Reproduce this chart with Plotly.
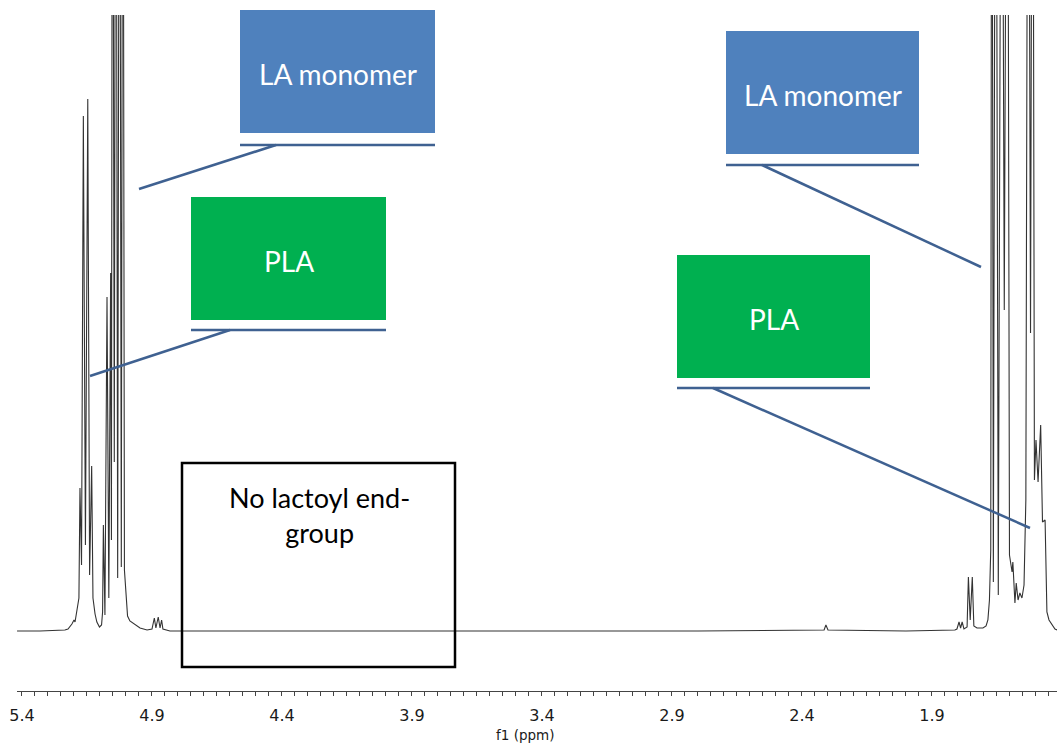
import plotly.graph_objects as go

# 1H NMR trace: chemical shift (ppm) and intensity (arbitrary units, baseline = 0)
shift_ppm = [
    5.419, 5.331, 5.235, 5.223, 5.208, 5.200, 5.196, 5.192, 5.189, 5.185, 5.181,
    # PLA methine quartet
    5.177, 5.171, 5.164, 5.156, 5.147, 5.140, 5.132,
    5.127, 5.119, 5.112, 5.102, 5.094, 5.090,
    # lactide monomer methine
    5.087, 5.081, 5.073, 5.066, 5.059, 5.056, 5.052, 5.045, 5.039, 5.032, 5.025,
    5.018, 5.012, 5.006, 5.000, 4.994, 4.985, 4.965, 4.946, 4.919,
    # minor signals
    4.900, 4.891, 4.885, 4.876, 4.869, 4.863, 4.858, 4.831,
    4.300, 3.800, 3.300, 2.800, 2.315, 2.308, 2.300, 2.000, 1.812,
    1.804, 1.796, 1.790, 1.784, 1.777, 1.765, 1.760, 1.753, 1.745, 1.739, 1.727,
    1.704, 1.692, 1.685, 1.679, 1.674,
    # methyl region
    1.670, 1.664, 1.655, 1.645, 1.632, 1.622, 1.610, 1.602, 1.592, 1.589, 1.581,
    1.576, 1.569, 1.562, 1.554, 1.546, 1.539, 1.530, 1.521, 1.513, 1.506, 1.500,
    1.492, 1.482, 1.475, 1.465, 1.458, 1.450, 1.439, 1.427, 1.419,
]
intensity = [
    0, 0, 1, 2, 7, 11, 9, 16, 18, 26, 33,
    143, 66, 515, 86, 532, 56, 165,
    33, 17, 9, 4, 6, 19,
    106, 16, 334, 33, 358, 91, 1100, 169, 1100, 53, 1100,
    64, 1100, 61, 31, 15, 10, 6, 3, 1,
    2, 13, 3, 14, 3, 11, 2, 0,
    0, 0, 0, 0, 1, 6, 1, 0, 1,
    2, 9, 3, 9, 2, 4, 54, 11, 54, 5, 3,
    3, 5, 11, 31, 81,
    1100, 49, 1100, 36, 1100, 321, 1100, 76, 59, 69, 28,
    48, 31, 38, 33, 46, 131, 1100, 298, 1100, 151, 191,
    149, 206, 109, 111, 19, 11, 6, 2, 1,
]

# Axis tick labels
tick_vals = [5.4, 4.9, 4.4, 3.9, 3.4, 2.9, 2.4, 1.9]
tick_text = ["5.4", "4.9", "4.4", "3.9", "3.4", "2.9", "2.4", "1.9"]

W, H = 1057, 745
M_L, M_R, M_T, M_B = 17, 0, 15, 54
PW, PH = W - M_L - M_R, H - M_T - M_B


def px(x):
    return (x - M_L) / PW


def py(y):
    return (H - M_B - y) / PH


fig = go.Figure()
fig.add_trace(go.Scatter(
    x=shift_ppm, y=intensity, mode="lines",
    line=dict(color="#333333", width=1.1),
    hoverinfo="x+y", showlegend=False,
))

BLUE, GREEN, LINE = "#4f81bd", "#00b050", "#3f6191"
shapes = []
annotations = []


def callout(x0, x1, y0, y1, fill, label, rule_y, tip_from, tip_to):
    shapes.append(dict(type="rect", xref="paper", yref="paper",
                       x0=px(x0), x1=px(x1), y0=py(y1), y1=py(y0),
                       fillcolor=fill, line=dict(width=0), layer="above"))
    shapes.append(dict(type="line", xref="paper", yref="paper",
                       x0=px(x0), x1=px(x1), y0=py(rule_y), y1=py(rule_y),
                       line=dict(color=LINE, width=2.5)))
    shapes.append(dict(type="line", xref="paper", yref="paper",
                       x0=px(tip_from), x1=px(tip_to[0]),
                       y0=py(rule_y), y1=py(tip_to[1]),
                       line=dict(color=LINE, width=2.5)))
    annotations.append(dict(xref="paper", yref="paper",
                            x=px((x0 + x1) / 2), y=py((y0 + y1) / 2 + 2),
                            text=label, showarrow=False,
                            font=dict(family="Lato", size=28, color="white"),
                            xanchor="center", yanchor="middle"))


callout(240, 435, 10, 133, BLUE, "LA monomer", 145, 276, (139, 189))
callout(191, 386, 197, 320, GREEN, "PLA", 330, 230, (90, 376))
callout(726, 919, 31, 154, BLUE, "LA monomer", 165, 762, (981, 267))
callout(677, 870, 255, 378, GREEN, "PLA", 388, 713, (1030, 528))

# Empty region box
shapes.append(dict(type="rect", xref="paper", yref="paper",
                   x0=px(182), x1=px(455), y0=py(667), y1=py(463),
                   line=dict(color="black", width=2.5), fillcolor="rgba(0,0,0,0)"))
annotations.append(dict(xref="paper", yref="paper", x=px(319), y=py(515),
                        text="No lactoyl end-<br>group", showarrow=False,
                        font=dict(family="Lato", size=27, color="black"),
                        xanchor="center", yanchor="middle", align="center"))

annotations.append(dict(xref="paper", yref="paper", x=px(525), y=py(735),
                        text="f1 (ppm)", showarrow=False,
                        font=dict(family="DejaVu Sans", size=13.5, color="#1a1a1a"),
                        xanchor="center", yanchor="middle"))

fig.update_layout(
    width=W, height=H,
    margin=dict(l=M_L, r=M_R, t=M_T, b=M_B, pad=0),
    paper_bgcolor="white", plot_bgcolor="white",
    shapes=shapes, annotations=annotations,
    xaxis=dict(
        range=[5.4192, 1.4192], autorange=False,
        tickmode="array", tickvals=tick_vals, ticktext=tick_text,
        ticks="outside", ticklen=4, tickwidth=1, tickcolor="#444",
        ticklabelstandoff=6,
        minor=dict(dtick=0.05, tick0=5.4, ticks="outside", ticklen=4,
                   tickwidth=1, tickcolor="#444"),
        showline=True, linecolor="#444", linewidth=1,
        showgrid=False, zeroline=False,
        tickfont=dict(family="DejaVu Sans", size=16, color="#1a1a1a"),
    ),
    yaxis=dict(range=[-60, 616], autorange=False, visible=False,
               showgrid=False, zeroline=False),
)

fig.write_html("out.html")
